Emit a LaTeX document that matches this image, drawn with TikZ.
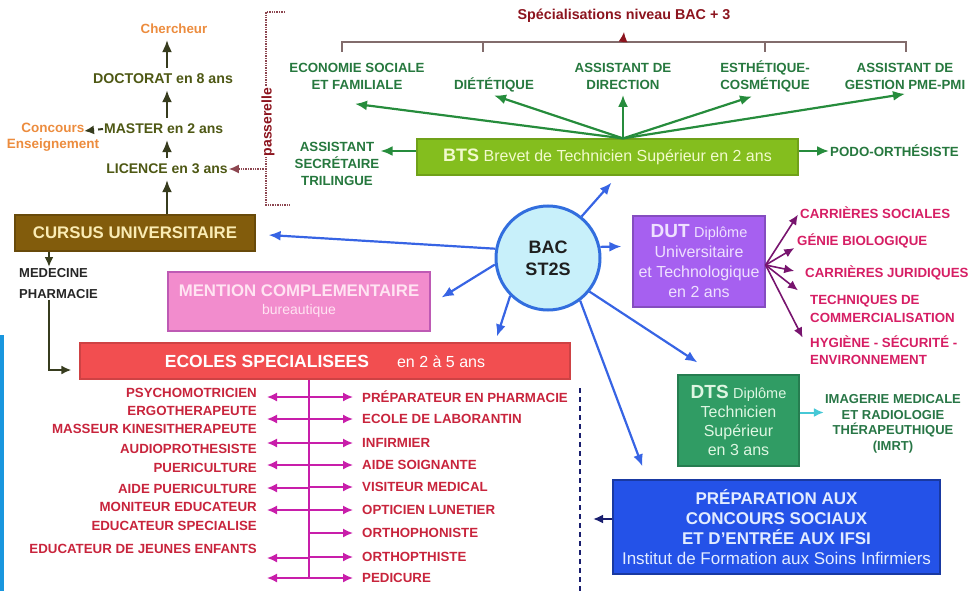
\documentclass[tikz,border=0pt]{standalone}
\usepackage{fontspec}
\setmainfont{Liberation Sans}
\usetikzlibrary{arrows.meta}

\definecolor{olivetxt}{RGB}{78,88,20}
\definecolor{orangetxt}{RGB}{236,140,62}
\definecolor{cursusbg}{RGB}{130,92,12}
\definecolor{cursustxt}{RGB}{250,236,180}
\definecolor{pinkbg}{RGB}{242,140,205}
\definecolor{pinkedge}{RGB}{190,90,180}
\definecolor{pinktxt}{RGB}{255,228,242}
\definecolor{redbg}{RGB}{242,78,80}
\definecolor{magline}{RGB}{200,30,170}
\definecolor{redtxt}{RGB}{200,36,60}
\definecolor{navydot}{RGB}{25,30,110}
\definecolor{prepbg}{RGB}{36,82,232}
\definecolor{preptxt}{RGB}{226,236,255}
\definecolor{dtsbg}{RGB}{48,156,100}
\definecolor{dtstxt}{RGB}{222,246,226}
\definecolor{cyanarr}{RGB}{70,200,214}
\definecolor{imrttxt}{RGB}{40,118,70}
\definecolor{dutbg}{RGB}{166,96,240}
\definecolor{duttxt}{RGB}{238,224,255}
\definecolor{dutarr}{RGB}{120,20,110}
\definecolor{dutlbl}{RGB}{214,30,100}
\definecolor{btsbg}{RGB}{132,190,30}
\definecolor{btstxt}{RGB}{242,250,205}
\definecolor{greenarr}{RGB}{38,140,60}
\definecolor{greentxt}{RGB}{38,120,62}
\definecolor{titletxt}{RGB}{140,20,30}
\definecolor{brackline}{RGB}{130,108,108}
\definecolor{pontdot}{RGB}{140,70,80}
\definecolor{bluearr}{RGB}{55,100,228}
\definecolor{bacbg}{RGB}{200,240,250}
\definecolor{bacedge}{RGB}{50,110,222}
\definecolor{sidebar}{RGB}{25,150,222}
\definecolor{darkarr}{RGB}{55,60,30}

\begin{document}
\begin{tikzpicture}[x=1pt,y=-1pt,
		lab/.style={font=\bfseries\fontsize{13.3}{17}\selectfont, align=center, inner sep=1pt},
		llab/.style={lab, text=redtxt, font=\bfseries\fontsize{13.3}{15}\selectfont},
		glab/.style={lab, text=greentxt},
		plab/.style={lab, text=dutlbl, align=left, font=\bfseries\fontsize{13.3}{17.5}\selectfont},
		box/.style={draw, line width=1.2pt, inner sep=2pt, align=center},
		tip/.style={-{Latex[length=12pt,width=10pt]}},
		smalltip/.style={-{Latex[length=10pt,width=9pt]}},
		oarrow/.style={tip, darkarr, line width=2pt, shorten >=5pt, shorten <=5pt},
		barrow/.style={tip, bluearr, line width=2.2pt},
		garrow/.style={tip, greenarr, line width=2.2pt},
		parrow/.style={smalltip, dutarr, line width=1.6pt},
		marrow/.style={smalltip, magline, line width=1.6pt},
		pdot/.style={pontdot, densely dotted, line width=1.4pt},
		brk/.style={brackline, line width=1.2pt}
	]
	\useasboundingbox (0,0) rectangle (971,591);
	\fill[sidebar] (0,335) rectangle (4,591);

	% cursus universitaire
	\node[lab, text=orangetxt] (chercheur) at (174,29) {Chercheur};
	\node[lab, text=olivetxt, font=\bfseries\fontsize{14.2}{17}\selectfont] (doctorat) at (163,79) {DOCTORAT en 8 ans};
	\node[lab, text=olivetxt, anchor=west, font=\bfseries\fontsize{14}{17}\selectfont] (master) at (103,129) {MASTER en 2 ans};
	\node[lab, text=orangetxt, font=\bfseries\fontsize{13.5}{16}\selectfont] (concours) at (53,137) {Concours\\Enseignement};
	\node[lab, text=olivetxt, font=\bfseries\fontsize{14}{17}\selectfont] (licence) at (167,169) {LICENCE en 3 ans};
	\coordinate (conc) at (84,131);
	\draw[oarrow] (doctorat.north -| licence) -- (chercheur.south -| licence);
	\draw[oarrow] (master.north -| licence) -- (doctorat.south -| licence);
	\draw[oarrow] (licence.north) -- (master.south -| licence);
	\draw[smalltip, darkarr, line width=2pt, dash pattern=on 5pt off 4pt] (master.west) -- (conc);

	\draw[pdot] (285,12) -- (266,12) -- (266,205) -- (290,205);
	\node[rotate=90, fill=white, inner sep=1pt, text=titletxt, font=\bfseries\fontsize{14}{16}\selectfont] (passerelle) at (268,122) {passerelle};
	\coordinate (pont) at (266,169);
	\draw[pdot, smalltip] (pont) -- (licence.east);

	\node[box, fill=cursusbg, draw=cursusbg!80!black, minimum width=240pt, minimum height=36pt, text=cursustxt, font=\bfseries\fontsize{16.8}{19}\selectfont] (cursus) at (135,233) {CURSUS UNIVERSITAIRE};
	\draw[oarrow, shorten <=0pt] (cursus.north -| licence) -- (licence.south);
	\node[lab, anchor=north west, align=left, text=black!85, font=\bfseries\fontsize{13}{21}\selectfont] (medecine) at (18,267) {MEDECINE\\PHARMACIE};
	\coordinate (medx) at ([xshift=-86pt]cursus.south);
	\draw[smalltip, darkarr, line width=2pt] (medx) -- (medx |- medecine.north);

	% ecoles specialisees
	\node[box, fill=pinkbg, draw=pinkedge, minimum width=262pt, minimum height=59pt, text=pinktxt, font=\fontsize{14}{18}\selectfont] (mention) at (299,301.5) {{\bfseries\fontsize{16.8}{19}\selectfont MENTION COMPLEMENTAIRE}\\bureautique};
	\node[box, fill=redbg, draw=redbg!85!black, minimum width=490pt, minimum height=36pt, text=white] (ecoles) at (325,361) {{\bfseries\fontsize{17.5}{20}\selectfont ECOLES SPECIALISEES}\hspace{28pt}{\fontsize{16}{18}\selectfont en 2 à 5 ans}};
	\draw[smalltip, darkarr, line width=2pt, shorten >=8pt] (medx |- medecine.south) |- ([yshift=-9pt]ecoles.west);

	\node[llab, anchor=east] (psy) at (258,393) {PSYCHOMOTRICIEN};
	\node[llab, anchor=east] (ergo) at (258,411) {ERGOTHERAPEUTE};
	\node[llab, anchor=east] (masseur) at (258,429) {MASSEUR KINESITHERAPEUTE};
	\node[llab, anchor=east] (audio) at (258,449) {AUDIOPROTHESISTE};
	\node[llab, anchor=east] (puer) at (258,468) {PUERICULTURE};
	\node[llab, anchor=east] (aidepuer) at (258,489) {AIDE PUERICULTURE};
	\node[llab, anchor=east] (moniteur) at (258,507) {MONITEUR EDUCATEUR};
	\node[llab, anchor=east] (educspe) at (258,526) {EDUCATEUR SPECIALISE};
	\node[llab, anchor=east] (educje) at (258,549) {EDUCATEUR DE JEUNES ENFANTS};

	\node[llab, anchor=west] (prepph) at (361,397) {PRÉPARATEUR EN PHARMACIE};
	\node[llab, anchor=west] (labo) at (361,419) {ECOLE DE LABORANTIN};
	\node[llab, anchor=west] (infirm) at (361,443) {INFIRMIER};
	\node[llab, anchor=west] (aidesoi) at (361,465) {AIDE SOIGNANTE};
	\node[llab, anchor=west] (visiteur) at (361,487) {VISITEUR MEDICAL};
	\node[llab, anchor=west] (opticien) at (361,510) {OPTICIEN LUNETIER};
	\node[llab, anchor=west] (orthoph) at (361,533) {ORTHOPHONISTE};
	\node[llab, anchor=west] (orthopt) at (361,557) {ORTHOPTHISTE};
	\node[llab, anchor=west] (pedicure) at (361,578) {PEDICURE};

	\coordinate (tronc) at ([xshift=-16pt]ecoles.south);
	\draw[magline, line width=1.6pt] (tronc) -- (tronc |- pedicure);
	\draw[marrow, shorten >=8pt] (tronc |- prepph) -- (prepph.west);
	\draw[marrow, shorten >=8pt] (tronc |- labo) -- (labo.west);
	\draw[marrow, shorten >=8pt] (tronc |- infirm) -- (infirm.west);
	\draw[marrow, shorten >=8pt] (tronc |- aidesoi) -- (aidesoi.west);
	\draw[marrow, shorten >=8pt] (tronc |- visiteur) -- (visiteur.west);
	\draw[marrow, shorten >=8pt] (tronc |- opticien) -- (opticien.west);
	\draw[marrow, shorten >=8pt] (tronc |- orthoph) -- (orthoph.west);
	\draw[marrow, shorten >=8pt] (tronc |- orthopt) -- (orthopt.west);
	\draw[marrow, shorten >=8pt] (tronc |- pedicure) -- (pedicure.west);
	\draw[marrow] (tronc |- 0,397) -- (267,397);
	\draw[marrow] (tronc |- 0,419) -- (267,419);
	\draw[marrow] (tronc |- 0,443) -- (267,443);
	\draw[marrow] (tronc |- 0,465) -- (267,465);
	\draw[marrow] (tronc |- 0,488) -- (267,488);
	\draw[marrow] (tronc |- 0,510) -- (267,510);
	\draw[marrow] (tronc |- 0,558) -- (267,558);
	\draw[marrow] (tronc |- 0,578) -- (267,578);

	% concours et ifsi
	\node[box, fill=prepbg, draw=prepbg!70!black, minimum width=327pt, minimum height=94pt, text=preptxt, font=\fontsize{17}{20}\selectfont] (prep) at (776.5,527) {\textbf{PRÉPARATION AUX}\\\textbf{CONCOURS SOCIAUX}\\\textbf{ET D’ENTRÉE AUX IFSI}\\Institut de Formation aux Soins Infirmiers};
	\coordinate (navtop) at (580,388);
	\draw[navydot, line width=2.5pt, dash pattern=on 5pt off 4pt] (navtop) -- (580,591);
	\draw[smalltip, navydot, line width=2pt, shorten >=13pt] ([yshift=8pt]prep.west) -- ([yshift=8pt]prep.west -| navtop);

	% dts
	\node[box, fill=dtsbg, draw=dtsbg!80!black, minimum width=121pt, minimum height=91pt, text=dtstxt, font=\fontsize{16}{19}\selectfont] (dts) at (738.5,420.5) {{\bfseries\fontsize{19}{19}\selectfont DTS} {\fontsize{14.5}{19}\selectfont Diplôme}\\Technicien\\Supérieur\\en 3 ans};
	\node[lab, text=imrttxt, font=\bfseries\fontsize{13}{15.5}\selectfont] (imrt) at (893,424) {IMAGERIE MEDICALE\\ET RADIOLOGIE\\THÉRAPEUTHIQUE\\(IMRT)};
	\draw[smalltip, cyanarr, line width=2pt] ([yshift=8pt]dts.east) -- ([yshift=8pt]dts.east -| imrt.west);

	% dut
	\node[box, fill=dutbg, draw=dutbg!80!black, minimum width=132pt, minimum height=91pt, text=duttxt, font=\fontsize{16}{20}\selectfont] (dut) at (699,261.5) {{\bfseries\fontsize{19}{20}\selectfont DUT} {\fontsize{14.5}{20}\selectfont Diplôme}\\Universitaire\\et Technologique\\en 2 ans};
	\node[plab, anchor=west] (carsoc) at (799,213) {CARRIÈRES SOCIALES};
	\node[plab, anchor=west] (genie) at (796,241) {GÉNIE BIOLOGIQUE};
	\node[plab, anchor=west] (carjur) at (804,273) {CARRIÈRES JURIDIQUES};
	\node[plab, anchor=west] (techn) at (809,309) {TECHNIQUES DE\\COMMERCIALISATION};
	\node[plab, anchor=west] (hygiene) at (809,350) {HYGIÈNE - SÉCURITÉ -\\ENVIRONNEMENT};
	\coordinate (dutfan) at ([yshift=-3.5pt]dut.east);
	\draw[parrow, shorten >=2pt] (dutfan) -- (carsoc.west);
	\draw[parrow, shorten >=2pt] (dutfan) -- ([yshift=-6pt]genie.west);
	\draw[parrow, shorten >=10pt] (dutfan) -- (carjur.west);
	\draw[parrow, shorten >=14pt] (dutfan) -- ([yshift=10pt]techn.west);
	\draw[parrow, shorten >=14pt] (dutfan) -- (hygiene.west);

	% bts
	\node[box, fill=btsbg, draw=btsbg!85!black, minimum width=381pt, minimum height=36pt, text=btstxt, font=\fontsize{16}{17}\selectfont] (bts) at (607.5,157) {{\bfseries\fontsize{18}{18}\selectfont BTS} Brevet de Technicien Supérieur en 2 ans};
	\node[glab] (eco) at (357,76.5) {ECONOMIE SOCIALE\\ET FAMILIALE};
	\node[glab] (diet) at (494,85) {DIÉTÉTIQUE};
	\node[glab] (direc) at (623,76.5) {ASSISTANT DE\\DIRECTION};
	\node[glab] (esth) at (765,76.5) {ESTHÉTIQUE-\\COSMÉTIQUE};
	\node[glab] (gestion) at (905,76.5) {ASSISTANT DE\\GESTION PME-PMI};
	\node[glab] (secr) at (337,163.5) {ASSISTANT\\SECRÉTAIRE\\TRILINGUE};
	\node[glab, anchor=west] (podo) at (829,151) {PODO-ORTHÉSISTE};
	\coordinate (btsfan) at ([xshift=15.5pt]bts.north);
	\draw[garrow] (btsfan) -- ([xshift=-2pt,yshift=-13pt]eco.south);
	\draw[garrow] (btsfan) -- ([yshift=-2pt]diet.south);
	\draw[garrow] (btsfan) -- ([yshift=-4pt]direc.south);
	\draw[garrow] (btsfan) -- ([xshift=-13pt,yshift=-3pt]esth.south);
	\draw[garrow] (btsfan) -- ([yshift=-3pt]gestion.south);
	\draw[garrow] ([yshift=6pt]bts.west) -- ([yshift=6pt]bts.west -| secr.east);
	\draw[garrow] ([yshift=6pt]bts.east) -- (podo.west);

	% specialisations bac + 3
	\node[lab, text=titletxt, font=\bfseries\fontsize{14.3}{16}\selectfont] (titre) at (624,16) {Spécialisations niveau BAC + 3};
	\draw[brk] (342,52) -- (342,42) -- (906,42) -- (906,52);
	\draw[brk] (483,42) -- (483,52);
	\draw[brk] (765,42) -- (765,52);
	\coordinate (accol) at (623,42);
	\draw[smalltip, titletxt, line width=1.5pt] (accol) -- ([yshift=-8pt]titre.south);

	% bac
	\node[circle, draw=bacedge, line width=3pt, fill=bacbg, minimum size=104pt, align=center, text=black!88, font=\bfseries\fontsize{18}{22}\selectfont] (bac) at (548,258) {BAC\\ST2S};
	\draw[barrow] (bac.170) -- ([xshift=13pt,yshift=-2pt]cursus.east);
	\draw[barrow] (bac.51) -- ([xshift=4pt,yshift=-7pt]bts.south);
	\draw[barrow] (bac.12) -- ([xshift=-11pt,yshift=15pt]dut.west);
	\draw[barrow] (bac.187) -- ([xshift=11pt,yshift=4pt]mention.east);
	\draw[barrow] (bac.225) -- ([xshift=172pt,yshift=6pt]ecoles.north);
	\draw[barrow] (bac.307) -- ([xshift=30pt,yshift=13pt]prep.north west);
	\draw[barrow] (bac.321) -- ([xshift=20pt,yshift=12pt]dts.north west);
\end{tikzpicture}
\end{document}
